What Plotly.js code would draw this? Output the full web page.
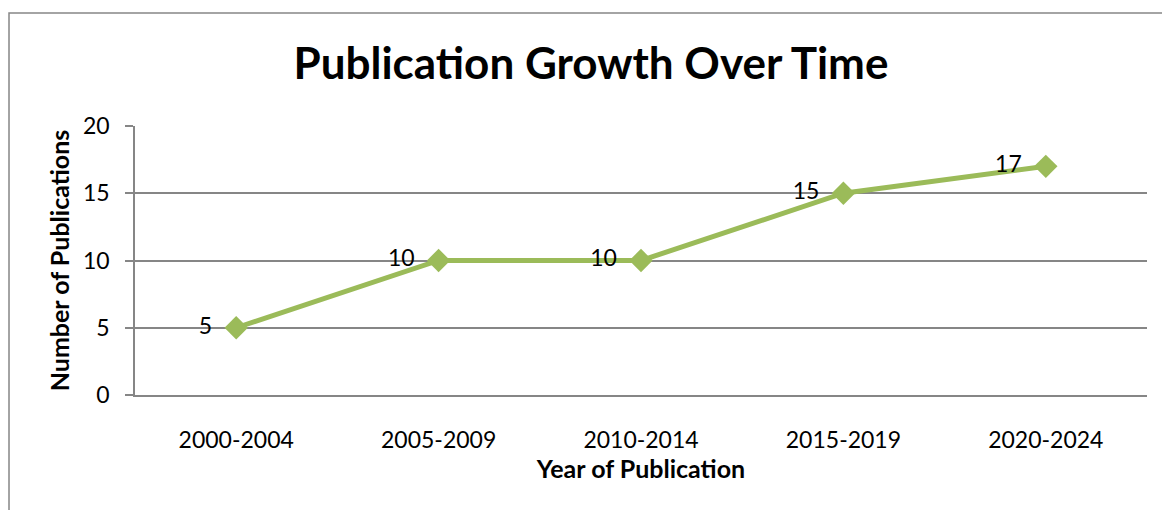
<!DOCTYPE html>
<html>
<head>
<meta charset="utf-8">
<script src="https://cdn.plot.ly/plotly-3.0.1.min.js"></script>
<style>
html,body{margin:0;padding:0;background:#fff;}
#chart{width:1162px;height:510px;}
</style>
</head>
<body>
<div id="chart"></div>
<script>
const categories = ["2000-2004", "2005-2009", "2010-2014", "2015-2019", "2020-2024"];
const publications = [5, 10, 10, 15, 17];
const yTicks = [0, 5, 10, 15, 20];

const trace = {
  x: categories,
  y: publications,
  type: "scatter",
  mode: "lines+markers+text",
  text: publications.map(v => String(v) + "\u00a0\u00a0"),
  textposition: "middle left",
  textfont: {family: "Lato, sans-serif", size: 23, color: "#000"},
  line: {color: "#9BBB59", width: 5},
  marker: {symbol: "diamond", size: 18, color: "#9BBB59"},
  cliponaxis: false,
  hoverinfo: "x+y"
};

const layout = {
  width: 1162,
  height: 510,
  margin: {l: 135, r: 15, t: 126, b: 115},
  paper_bgcolor: "#fff",
  plot_bgcolor: "#fff",
  showlegend: false,
  font: {family: "Lato, sans-serif", color: "#000"},
  title: {
    text: "<b>Publication Growth Over Time</b>",
    font: {family: "Lato, sans-serif", size: 44, color: "#000"},
    xref: "container", x: 0.5086, xanchor: "center",
    yref: "container", y: 0.8745, yanchor: "middle"
  },
  xaxis: {
    type: "category",
    range: [-0.5, 4.5],
    showline: true, linecolor: "#868686", linewidth: 1.5,
    showgrid: false, zeroline: false,
    ticks: "",
    ticklabelstandoff: 24,
    tickfont: {family: "Lato, sans-serif", size: 23, color: "#000"},
    title: {text: "<b>Year of Publication</b>", font: {family: "Lato, sans-serif", size: 25, color: "#000"}, standoff: 8},
    automargin: false,
    fixedrange: true
  },
  yaxis: {
    range: [0, 20],
    tickvals: yTicks,
    showline: true, linecolor: "#868686", linewidth: 1.5,
    showgrid: true, gridcolor: "#868686", gridwidth: 1.5,
    zeroline: false,
    ticks: "outside", ticklen: 8, tickcolor: "#868686", tickwidth: 1.5,
    ticklabelstandoff: 11,
    tickfont: {family: "Lato, sans-serif", size: 23, color: "#000"},
    title: {text: "<b>Number of Publications</b>", font: {family: "Lato, sans-serif", size: 25, color: "#000"}, standoff: 6},
    automargin: false,
    fixedrange: true
  },
  shapes: [{
    type: "rect", xref: "paper", yref: "paper",
    x0: -0.1245, x1: 1.3, y0: -0.6, y1: 1.42,
    line: {color: "#868686", width: 1.5},
    fillcolor: "rgba(0,0,0,0)",
    layer: "below"
  }]
};

Plotly.newPlot("chart", [trace], layout, {displayModeBar: false, staticPlot: false});
</script>
</body>
</html>
